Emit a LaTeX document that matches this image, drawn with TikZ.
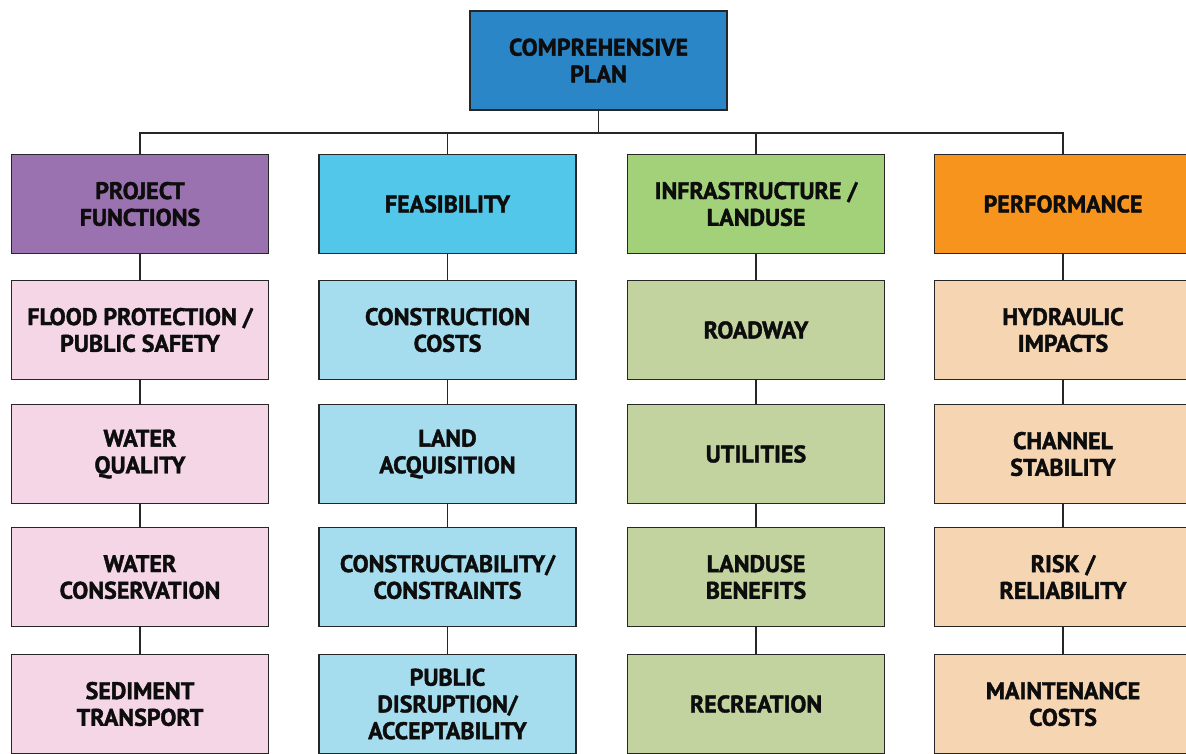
\documentclass[tikz,border=0pt]{standalone}
\usepackage{fontspec}
\setmainfont{PT Sans}[BoldFeatures={FakeBold=1.6}]
\begin{document}
\begin{tikzpicture}[x=1pt,y=-1pt,
  box/.style={draw=black!85,line width=1.6pt,minimum width=257pt,minimum height=99pt,
    align=center,font=\bfseries\fontsize{24}{26.7}\selectfont,text=black!95,inner sep=2pt},
  link/.style={draw=black!85,line width=1.6pt}]
\definecolor{cTop}{HTML}{2B86C8}
\definecolor{cPur}{HTML}{9B72B0}
\definecolor{cCya}{HTML}{52C7EA}
\definecolor{cGre}{HTML}{A3D17A}
\definecolor{cOra}{HTML}{F7941D}
\definecolor{lPur}{HTML}{F5D6E7}
\definecolor{lCya}{HTML}{A6DDEE}
\definecolor{lGre}{HTML}{C2D3A0}
\definecolor{lOra}{HTML}{F6D5B3}
\useasboundingbox (0,0) rectangle (1186,753);
\node[box,fill=cTop] (top) at (598.5,60.5) {COMPREHENSIVE\\PLAN};
\coordinate (bus) at (598.5,133);
% column 1
\node[box,fill=cPur] (a0) at (140,204) {PROJECT\\FUNCTIONS};
\node[box,fill=lPur] (a1) at (140,330) {FLOOD PROTECTION /\\PUBLIC SAFETY};
\node[box,fill=lPur] (a2) at (140,454) {WATER\\QUALITY};
\node[box,fill=lPur] (a3) at (140,577) {WATER\\CONSERVATION};
\node[box,fill=lPur] (a4) at (140,704) {SEDIMENT\\TRANSPORT};
% column 2
\node[box,fill=cCya] (b0) at (447.5,204) {FEASIBILITY};
\node[box,fill=lCya] (b1) at (447.5,330) {CONSTRUCTION\\COSTS};
\node[box,fill=lCya] (b2) at (447.5,454) {LAND\\ACQUISITION};
\node[box,fill=lCya] (b3) at (447.5,577) {CONSTRUCTABILITY/\\CONSTRAINTS};
\node[box,fill=lCya] (b4) at (447.5,704) {PUBLIC\\DISRUPTION/\\ACCEPTABILITY};
% column 3
\node[box,fill=cGre] (c0) at (756,204) {INFRASTRUCTURE /\\LANDUSE};
\node[box,fill=lGre] (c1) at (756,330) {ROADWAY};
\node[box,fill=lGre] (c2) at (756,454) {UTILITIES};
\node[box,fill=lGre] (c3) at (756,577) {LANDUSE\\BENEFITS};
\node[box,fill=lGre] (c4) at (756,704) {RECREATION};
% column 4
\node[box,fill=cOra] (d0) at (1063,204) {PERFORMANCE};
\node[box,fill=lOra] (d1) at (1063,330) {HYDRAULIC\\IMPACTS};
\node[box,fill=lOra] (d2) at (1063,454) {CHANNEL\\STABILITY};
\node[box,fill=lOra] (d3) at (1063,577) {RISK /\\RELIABILITY};
\node[box,fill=lOra] (d4) at (1063,704) {MAINTENANCE\\COSTS};
% connectors
\draw[link] (top.south) -- (bus);
\foreach \c in {a,b,c,d}{
  \draw[link] (bus) -| (\c0.north);
  \draw[link] (\c0.south) -- (\c1.north);
  \draw[link] (\c1.south) -- (\c2.north);
  \draw[link] (\c2.south) -- (\c3.north);
  \draw[link] (\c3.south) -- (\c4.north);
}
\end{tikzpicture}
\end{document}
